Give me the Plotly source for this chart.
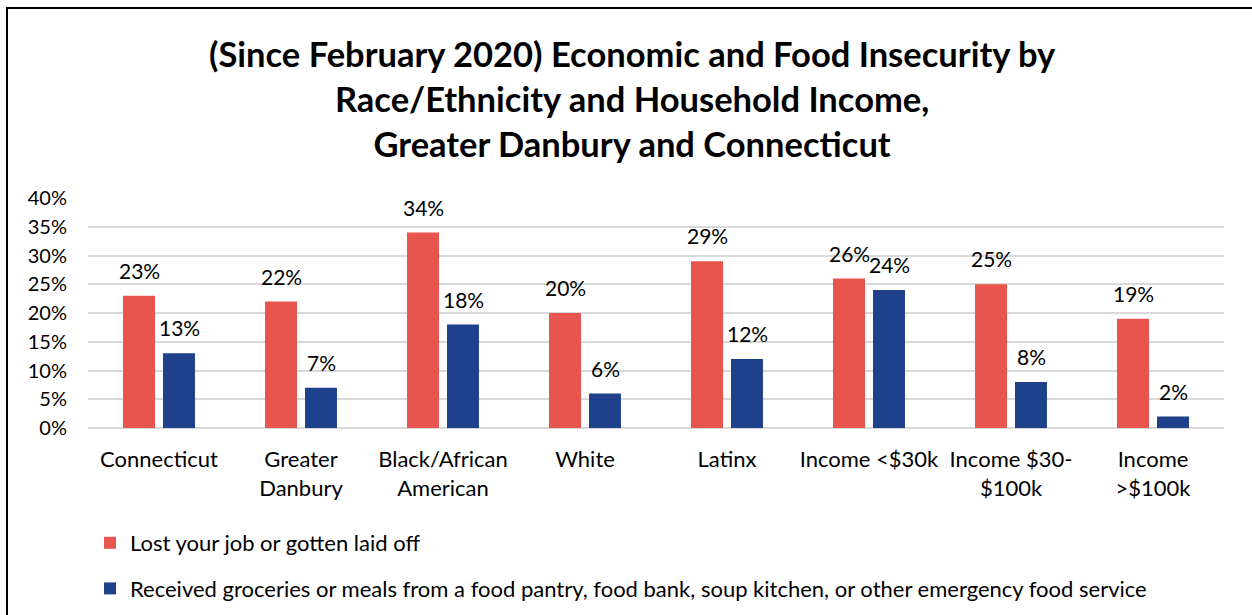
import plotly.graph_objects as go

categories = ["Connecticut", "Greater<br>Danbury", "Black/African<br>American", "White",
              "Latinx", "Income <$30k", "Income $30-<br>$100k", "Income<br>>$100k"]
lost_job = [23, 22, 34, 20, 29, 26, 25, 19]
food_aid = [13, 7, 18, 6, 12, 24, 8, 2]
series_names = ["Lost your job or gotten laid off",
                "Received groceries or meals from a food pantry, food bank, soup kitchen, or other emergency food service"]
tick_values = [0, 5, 10, 15, 20, 25, 30, 35, 40]
tick_labels = [f"{v}%" for v in tick_values]

RED = "#E8554F"
BLUE = "#1F408B"
FONT = "Lato"

W, H = 1252, 615
ML, MR, MT, MB = 88, 28, 198, 187
PW, PH = W - ML - MR, H - MT - MB


def px_x(p):
    return (p - ML) / PW


def px_y(p):
    return (H - MB - p) / PH


fig = go.Figure()
fig.add_trace(go.Bar(x=categories, y=lost_job, name=series_names[0],
                     marker=dict(color=RED, line=dict(width=0)), legendgroup="a"))
fig.add_trace(go.Bar(x=categories, y=food_aid, name=series_names[1],
                     marker=dict(color=BLUE, line=dict(width=0)), legendgroup="b"))

annotations = []
for vals, shift in ((lost_job, -20), (food_aid, 20)):
    for c, v in zip(categories, vals):
        annotations.append(dict(x=c, y=v, text=f"{v}%", showarrow=False,
                                xshift=shift, yshift=11, yanchor="bottom",
                                font=dict(family=FONT, size=21, color="#000")))

annotations.append(dict(
    text="<b>(Since February 2020) Economic and Food Insecurity by<br>"
         "Race/Ethnicity and Household Income,<br>Greater Danbury and Connecticut</b>",
    xref="paper", yref="paper", x=px_x(632), y=px_y(98), xanchor="center", yanchor="middle",
    showarrow=False, align="center",
    font=dict(family=FONT, size=34.5, color="#000")))

shapes = [
    dict(type="line", xref="paper", yref="paper", x0=px_x(7), x1=px_x(7),
         y0=px_y(7), y1=px_y(620), line=dict(color="#000", width=2)),
    dict(type="line", xref="paper", yref="paper", x0=px_x(6), x1=px_x(1260),
         y0=px_y(8), y1=px_y(8), line=dict(color="#000", width=2)),
]

fig.update_layout(
    width=W, height=H,
    margin=dict(l=ML, r=MR, t=MT, b=MB, autoexpand=False),
    paper_bgcolor="white", plot_bgcolor="white",
    barmode="group", bargap=0.437, bargroupgap=0.2,
    font=dict(family=FONT, color="#000"),
    annotations=annotations, shapes=shapes,
    showlegend=True,
    legend=dict(xref="container", yref="container", x=90 / W, y=1 - 522 / H,
                xanchor="left", yanchor="top",
                orientation="v", font=dict(family=FONT, size=22, color="#000"),
                tracegroupgap=14, traceorder="grouped", bgcolor="rgba(0,0,0,0)"),
)
fig.update_xaxes(showgrid=False, showline=False, ticks="", tickfont=dict(family=FONT, size=22),
                 ticklabelstandoff=16, automargin=False)
fig.update_yaxes(range=[0, 40], tickvals=tick_values, ticktext=tick_labels,
                 showgrid=True, gridcolor="#D9D9D9", gridwidth=1.5,
                 zeroline=True, zerolinecolor="#D9D9D9", zerolinewidth=1.5,
                 showline=False, ticks="", tickfont=dict(family=FONT, size=20),
                 ticklabelstandoff=20, automargin=False)

fig.write_html("out.html")
